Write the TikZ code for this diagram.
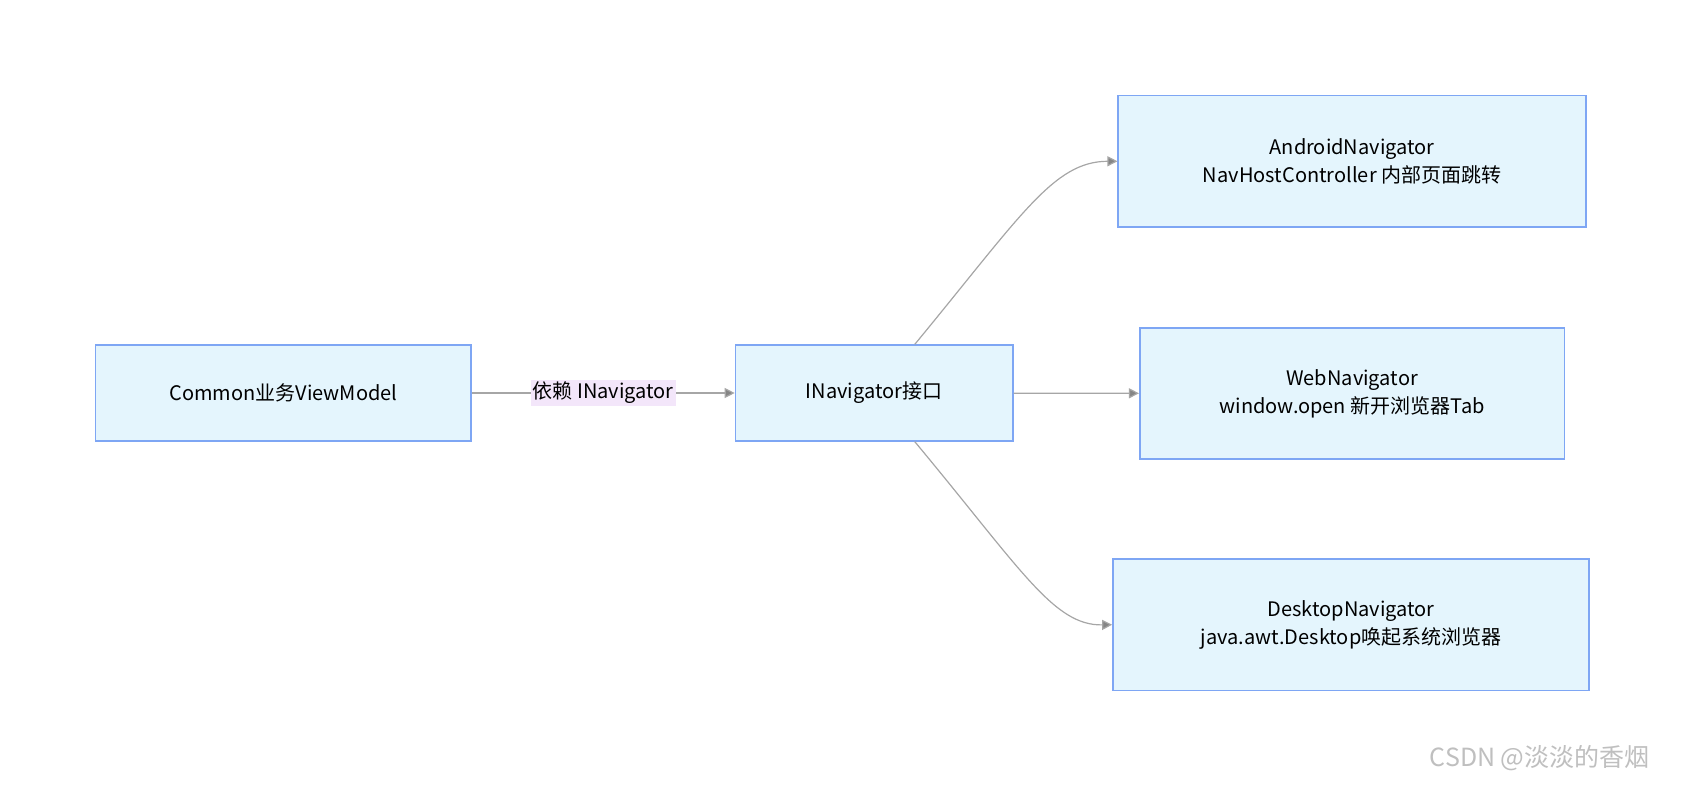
\documentclass[tikz,border=0pt]{standalone}
\usepackage{fontspec}
\setmainfont{Noto Sans CJK SC}
\usetikzlibrary{arrows.meta}
\definecolor{boxfill}{HTML}{E4F5FD}
\definecolor{boxline}{HTML}{7EA6F4}
\definecolor{edgegray}{HTML}{A6A6A6}
\definecolor{lblfill}{HTML}{F3E6FA}
\begin{document}
\begin{tikzpicture}[
  x=0.5375pt, y=-0.5375pt,
  font=\fontsize{10}{14}\selectfont,
  box/.style={draw=boxline, fill=boxfill, line width=0.8pt, align=center, inner sep=0pt},
  link/.style={draw=edgegray, line width=0.6pt, -{Triangle[length=5pt,width=5pt,fill=edgegray!80!black]}},
  lbl/.style={fill=lblfill, inner sep=1pt}
]
\useasboundingbox (0,0) rectangle (1568,732);

% Nodes
\node[box, minimum width=349*0.5375pt, minimum height=89*0.5375pt] (common) at (263.5,365.5) {Common业务ViewModel};
\node[box, minimum width=258*0.5375pt, minimum height=89*0.5375pt] (inav) at (813,365.5) {INavigator接口};
\node[box, minimum width=435*0.5375pt, minimum height=122*0.5375pt] (android) at (1257.5,150) {AndroidNavigator\\NavHostController 内部页面跳转};
\node[box, minimum width=395*0.5375pt, minimum height=122*0.5375pt] (web) at (1257.5,366) {WebNavigator\\window.open 新开浏览器Tab};
\node[box, minimum width=443*0.5375pt, minimum height=122*0.5375pt] (desktop) at (1256.5,581) {DesktopNavigator\\java.awt.Desktop唤起系统浏览器};

% Edges
\draw[link] (common) -- node[lbl] {依赖 INavigator} (inav);
\draw[link] (inav.north east) ++(-92*0.5375pt,0) coordinate (ia) .. controls (950,200) and (980,150) .. (android.west);
\draw[link] (inav) -- (web);
\draw[link] (inav.south east) ++(-92*0.5375pt,0) coordinate (ib) .. controls (950,530) and (980,582) .. (desktop.west);

% Watermark
\node[text=black!25, font=\fontsize{12.5}{14}\selectfont] (mark) at (1432,705) {CSDN @淡淡的香烟};
\end{tikzpicture}
\end{document}
